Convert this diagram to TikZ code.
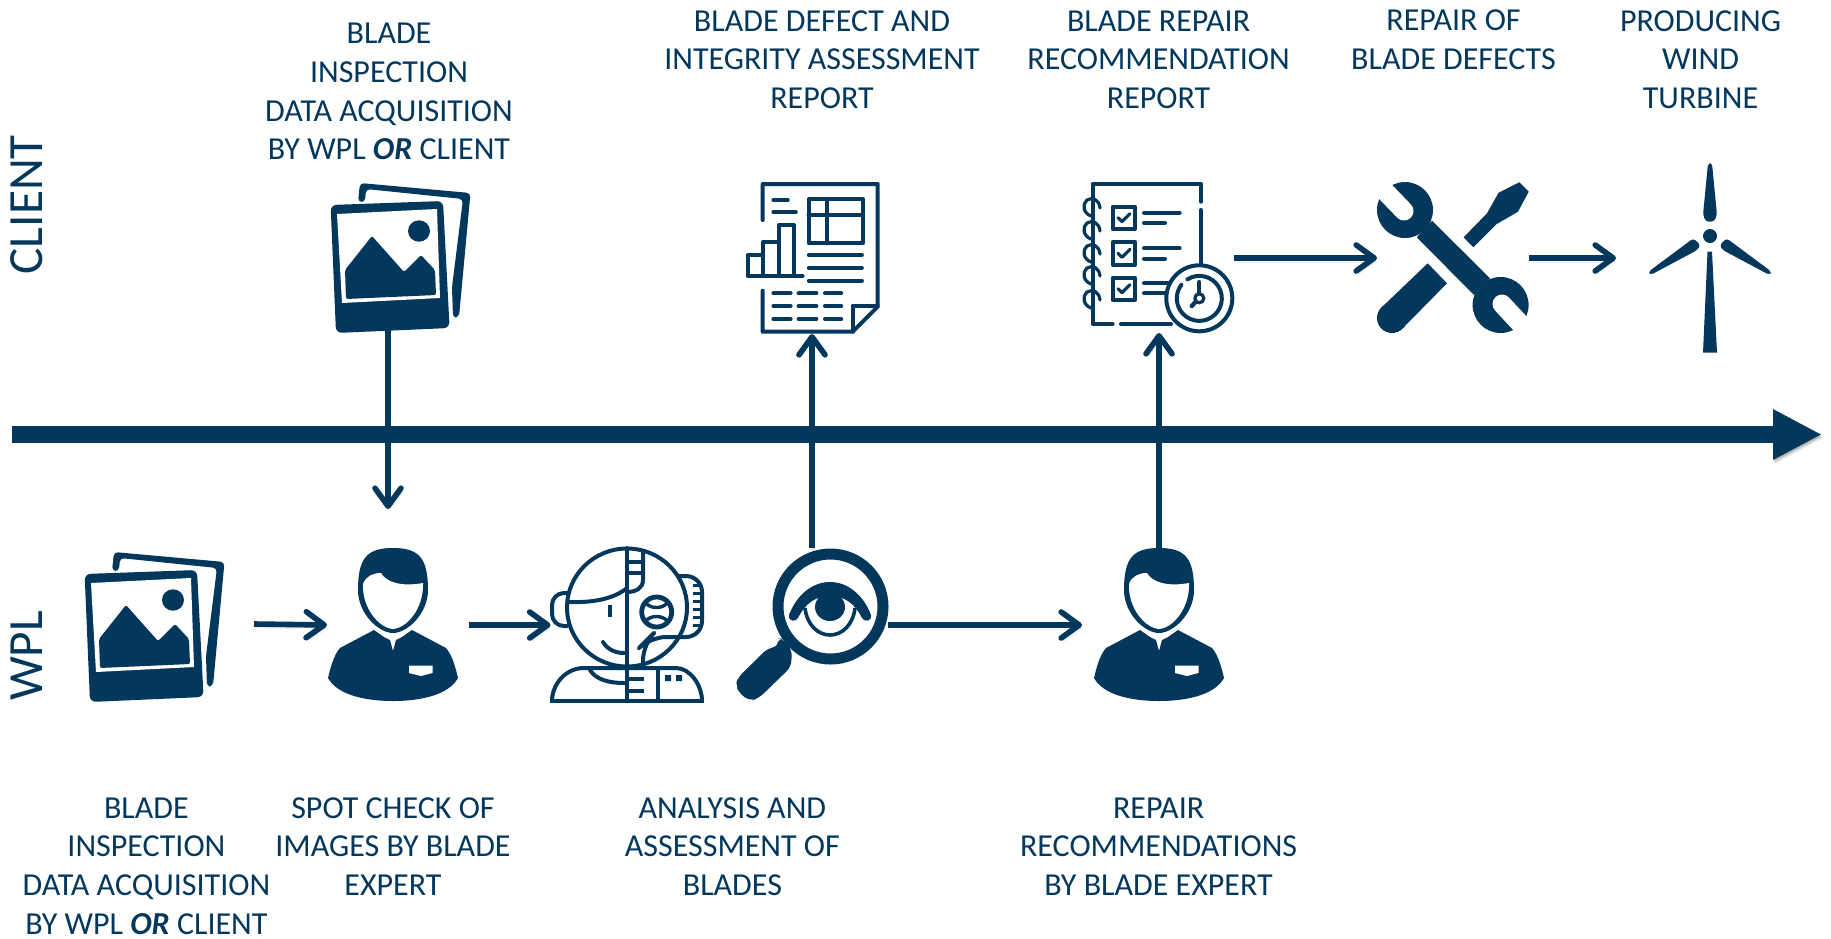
\documentclass[tikz,border=0pt]{standalone}
\usepackage{fontspec}
\setmainfont{Carlito}
\usetikzlibrary{arrows.meta}
\definecolor{navy}{HTML}{03375C}
\tikzset{
  x=.5pt,y=-.5pt,
  label text/.style={align=center,inner sep=0pt,text=navy,font=\fontsize{16}{19.3}\selectfont},
  side text/.style={inner sep=0pt,text=navy,rotate=90,font=\fontsize{24.6}{26}\selectfont},
  iconbox/.style={inner sep=0pt,outer sep=0pt,minimum width=#1*.5pt},
  iconbox/.default=100,
  icon line/.style={draw=navy,line width=2pt,line cap=round,line join=round},
  soft shadow/.style={
    preaction={draw=black,draw opacity=.07,transform canvas={xshift=1pt,yshift=-2pt}},
    preaction={draw=black,draw opacity=.10,transform canvas={xshift=.7pt,yshift=-1.4pt}},
    preaction={draw=black,draw opacity=.14,transform canvas={xshift=.4pt,yshift=-.8pt}}},
  flow/.style={draw=navy,line width=2.8pt,soft shadow,-{Straight Barb[length=9pt,width=13pt,round]}},
  axis/.style={draw=navy,line width=8.5pt,soft shadow,-{Triangle[length=24.5pt,width=23.5pt]}},
  photoicon/.pic={
    \fill[navy,rounded corners=2pt] (358,202)--(360,183)--(470.5,193)--(459,317)--(453,318)--(452,287)--(463,199)--(366,189)--(365,202)--cycle;
    \fill[navy,rounded corners=3pt] (330.6,205)--(443,201)--(449.6,328)--(336,333)--cycle;
    \fill[white] (337,214)--(437,209)--(440,298)--(342,303)--cycle;
    \fill[navy,rounded corners=1pt] (346,299)--(345,270)--(372,236)--(404,272)--(421,255)--(435,270)--(436,295)--cycle;
    \fill[navy] (419,231) ellipse [x radius=11,y radius=10.7];
  },
  bustfigure/.pic={
    \fill[navy] (0,0) .. controls (-26,0) and (-35,10) .. (-35,42) .. controls (-35,66) and (-14,85) .. (0,85)
       .. controls (14,85) and (35,66) .. (35,42) .. controls (35,10) and (26,0) .. (0,0) -- cycle;
    \fill[white] (-30,36) .. controls (-27,28) and (-20,25) .. (-12,25) .. controls (-7,34) and (8,39) .. (30,35)
       .. controls (31,60) and (14,80) .. (0,81) .. controls (-14,80) and (-31,60) .. (-30,36) -- cycle;
    \fill[navy] (-19,82) -- (-9,89) -- (-3,92) -- (0,103) -- (3,92) -- (9,89) -- (19,82) -- (53,100)
       .. controls (60,108) and (63,122) .. (65,130) .. controls (55,148) and (25,153) .. (0,153)
       .. controls (-25,153) and (-55,148) .. (-65,130) .. controls (-63,122) and (-60,108) .. (-53,100) -- cycle;
    \fill[white] (16,117.5) -- (39.5,117.5) -- (39.5,125) -- (28,128) -- (16,125) -- cycle;
  },
}
\begin{document}
\begin{tikzpicture}
\useasboundingbox (0,0) rectangle (1831,938);

% connector anchors: invisible boxes around the icons
\node[iconbox=116,minimum height=60pt] (photoT) at (388,260) {};
\node[iconbox=168,minimum height=60pt] (photoW) at (170,624) {};
\node[iconbox=142,minimum height=116pt] (personL) at (398,625) {};
\node[iconbox=151,minimum height=77pt] (robot) at (626,625) {};
\node[iconbox=151,minimum height=77pt] (lens) at (812,625) {};
\node[iconbox=154,minimum height=75pt] (personR) at (1159,625) {};
\node[iconbox=124,minimum height=75pt] (report) at (812,259) {};
\node[iconbox=150.8,minimum height=75pt] (checklist) at (1159,258) {};
\node[iconbox=152,minimum height=75pt] (tools) at (1453,258) {};
\node[iconbox=188,minimum height=75pt] (turbine) at (1710,258) {};
\coordinate (axisstart) at (12,434.5);
\coordinate (axisend) at (1822,434.5);

% photos
\pic at (0,0) {photoicon};
\pic at (-246,369) {photoicon};

% people
\pic at (393,548) {bustfigure};
\pic at (1159,548) {bustfigure};

% robot head
\begin{scope}[icon line]
\draw (627,607.5) ellipse [x radius=60,y radius=59];
\draw (627,548) -- (627,701);
\draw (643,552) -- (643,580) .. controls (643,588) and (636,592) .. (627,592);
\draw (627,562) -- (643,562) (627,573) -- (643,573);
\draw (568,602) .. controls (595,603) and (615,598) .. (627,588);
\draw[rounded corners=6pt] (567,593) -- (552,593) -- (552,626) -- (567,626);
\draw[line cap=butt] (610,605) -- (610,617);
\draw (603,642) .. controls (607,649) and (615,653) .. (624,653);
\draw[line width=2.4pt] (656.7,612) ellipse [x radius=15,y radius=15];
\draw[line width=1.7pt,line cap=butt] (646,603) .. controls (650,609) and (663,609) .. (667,603);
\draw[line width=1.7pt,line cap=butt] (646,621) .. controls (650,615) and (663,615) .. (667,621);
\draw[rounded corners=8pt] (679,576) -- (702,576) -- (702,637) -- (650,637) -- (643,644) -- (643,663);
\foreach \yy in {585,593,...,625} \draw[line width=1.5pt,line cap=butt] (693,\yy) -- (702,\yy);
\draw (552,701) .. controls (552,685) and (565,668) .. (584,668) -- (676,668) .. controls (690,668) and (702,685) .. (702,701);
\draw (590,670) .. controls (596,680) and (610,683) .. (624,683);
\draw[line cap=butt] (550,701) -- (704,701);
\draw (658,668) -- (658,701);
\draw[line cap=butt] (627,679) -- (644,679) (627,691) -- (644,691);
\path[fill=navy,draw=none] (665,675) rectangle (671,681) (676,675) rectangle (682,681);
\end{scope}

% magnifier with eye
\draw[navy,line width=5.5pt] (830.5,606.5) circle [radius=52.5];
\fill[navy,rounded corners=3pt] (737.5,678) -- (768,648) -- (778,647) -- (778,638) -- (783,639) -- (792,650) -- (791,667) -- (759,698) -- (750,701) -- (739,693) -- (736,685) -- cycle;
\fill[navy] (830,607) ellipse [x radius=15,y radius=14];
\fill[navy,line join=round] (789,615) .. controls (797,594) and (813,582) .. (830,582) .. controls (847,582) and (863,594) .. (871,615)
   .. controls (872,622) and (864,622) .. (862,618) .. controls (855,604) and (845,596) .. (830,596) .. controls (815,596) and (805,604) .. (798,618) .. controls (796,622) and (788,622) .. (789,615) -- cycle;
\draw[navy,line width=1.8pt] (805,608) .. controls (807,625) and (818,635) .. (830,635) .. controls (842,635) and (853,625) .. (855,608);

% report
\begin{scope}[icon line]
\draw (762.7,220) -- (762.7,184) -- (877.7,184) -- (877.7,306.7) -- (852.6,331.7) -- (762.7,331.7) -- (762.7,290.7);
\draw (852.6,331.7) -- (852.6,305.7) -- (877.7,305.7);
\draw (773.4,200) -- (787.8,200) (773.4,212.3) -- (795.8,212.3);
\draw (808.5,199.3) rectangle (862.9,243.3);
\draw (808.5,215) -- (862.9,215) (826.7,199.3) -- (826.7,243.3);
\draw (802.6,276) -- (747.5,276) -- (747.5,255) -- (763,255) -- (763,276);
\draw (763,255) -- (763,242.3) -- (778.5,242.3) -- (778.5,276);
\draw (778.5,242.3) -- (778.5,225) -- (794,225) -- (794,276);
\draw (808.8,255) -- (861.9,255) (808.8,267.7) -- (861.9,267.7) (808.8,280.7) -- (861.9,280.7);
\foreach \yy in {293.3,306,319} {
  \draw (773.4,\yy) -- (790.6,\yy) (798.5,\yy) -- (816.4,\yy) (825,\yy) -- (841.2,\yy);
}
\end{scope}

% checklist
\begin{scope}[icon line]
\draw (1201,201.7) -- (1201,184) -- (1092.6,184) -- (1092.6,324) -- (1112.6,324);
\draw (1121,324) -- (1171,324);
\draw (1201,210) -- (1201,263);
\foreach \yy in {208,231,254,276,300} {
  \draw[line width=1.6pt] (1100,\yy) .. controls (1099,\yy-9) and (1092,\yy-11) .. (1087,\yy-8) .. controls (1082,\yy-4) and (1083,\yy+5) .. (1091,\yy+8);
}
\foreach \yy in {206.7,242.3,277.7} {
  \draw (1112.6,\yy) rectangle (1135,\yy+22.3);
  \draw[line width=1.6pt] (1118,\yy+11) -- (1122,\yy+15) -- (1130,\yy+7);
}
\draw (1144,212.7) -- (1179.7,212.7) (1144,223) -- (1165,223);
\draw (1144,248.3) -- (1179.7,248.3) (1144,258.7) -- (1165,258.7);
\draw (1144,283.3) -- (1168,283.3) (1144,293.3) -- (1168,293.3);
\path[fill=white,draw=none] (1199.3,298.3) circle [radius=33];
\draw (1199.3,298.3) circle [radius=33];
\draw (1187.4,279.3) arc [start angle=-122,end angle=217,radius=22.5];
\draw (1199.3,282) -- (1199.3,293);
\draw[line width=2.2pt] (1195.5,302) -- (1191.7,306);
\draw[line width=1.6pt] (1199.3,298.3) circle [radius=4.5];
\end{scope}

% tools
\fill[navy] (1432,220.7) -- (1490,278.3) -- (1474,295) -- (1416.8,237.3) -- cycle;
\fill[navy] (1405,210) circle [radius=28] (1500.6,305) circle [radius=28];
\draw[white,line width=9.5pt,line cap=round] (1404,211) -- (1378,184);
\draw[white,line width=9.5pt,line cap=round] (1502,304) -- (1529,333);
\fill[navy] (1427.7,263.3) -- (1447,283.3) -- (1403,328) -- (1381,308) -- cycle;
\fill[navy] (1392,318) circle [radius=15];
\fill[navy] (1463.6,237.3) -- (1473.3,247.3) -- (1496.7,224) -- (1518,211.7) -- (1528.7,191.7) -- (1519.3,182.3) -- (1498.6,192.7) -- (1487,213.3) -- cycle;

% turbine
\fill[navy] (1710,236) circle [radius=7];
\fill[navy,rounded corners=1.5pt] (1708,163.3) -- (1712,163.3) -- (1717,215) -- (1714,221.7) -- (1706,221.7) -- (1703,215) -- cycle;
\fill[navy] (1707.5,251.7) -- (1712,251.7) -- (1717,352.7) -- (1703,352.7) -- cycle;
\fill[navy,rounded corners=1.5pt] (1726.6,238.3) -- (1771.5,271.7) -- (1769.5,275) -- (1722.7,250) -- (1719.6,245) -- cycle;
\fill[navy,rounded corners=1.5pt] (1693.4,238.3) -- (1648.5,271.7) -- (1650.5,275) -- (1697.3,250) -- (1700.4,245) -- cycle;

% axis and connectors
\draw[axis] (axisstart) -- (axisend);
\draw[flow] (photoT.south) -- (photoT.south |- personL.north);
\draw[flow] (photoW.east) -- (personL.west);
\draw[flow] (personL.east) -- (robot.west);
\draw[flow] (lens.east) -- (personR.west);
\draw[flow] (lens.north) -- (report.south);
\draw[flow] (personR.north) -- (checklist.south);
\draw[flow] (checklist.east) -- (tools.west);
\draw[flow] (tools.east) -- (turbine.west);

% labels
\node[side text] (client) at (27,204.7) {CLIENT};
\node[side text] (wpl) at (27,656) {WPL};
\node[label text] (t1) at (389,91.7) {BLADE\\INSPECTION\\DATA ACQUISITION\\BY WPL \textbf{\textit{OR}} CLIENT};
\node[label text] (t2) at (822,59.7) {BLADE DEFECT AND\\INTEGRITY ASSESSMENT\\REPORT};
\node[label text] (t3) at (1158.6,59.7) {BLADE REPAIR\\RECOMMENDATION\\REPORT};
\node[label text] (t4) at (1453.5,40) {REPAIR OF\\BLADE DEFECTS};
\node[label text] (t5) at (1700.5,59.7) {PRODUCING\\WIND\\TURBINE};
\node[label text] (b1) at (146.4,866) {BLADE\\INSPECTION\\DATA ACQUISITION\\BY WPL \textbf{\textit{OR}} CLIENT};
\node[label text] (b2) at (393,846.5) {SPOT CHECK OF\\IMAGES BY BLADE\\EXPERT};
\node[label text] (b3) at (732.4,846.5) {ANALYSIS AND\\ASSESSMENT OF\\BLADES};
\node[label text] (b4) at (1158.6,846.5) {REPAIR\\RECOMMENDATIONS\\BY BLADE EXPERT};
\end{tikzpicture}
\end{document}
